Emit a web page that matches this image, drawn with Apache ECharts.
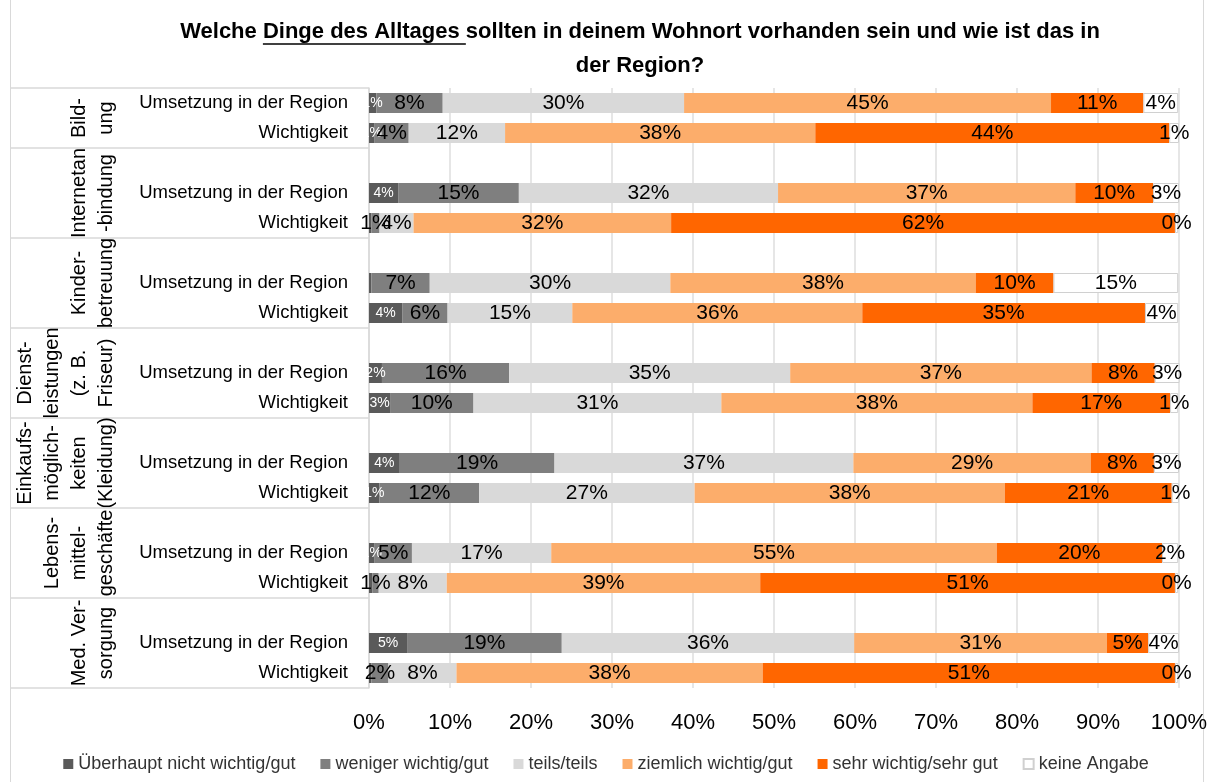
<!DOCTYPE html>
<html>
<head>
<meta charset="utf-8">
<script src="https://cdn.jsdelivr.net/npm/echarts@6/dist/echarts.min.js"></script>
<style>
html, body { margin: 0; padding: 0; background: #fff; }
#main { width: 1212px; height: 782px; }
</style>
</head>
<body>
<div id="main"></div>
<script>
// Gruppen (vertikale Beschriftung links) und Zeilen je Gruppe
var groups = ['Bild-\nung', 'Internetan\n-bindung', 'Kinder-\nbetreuung', 'Dienst-\nleistungen\n(z. B.\nFriseur)',
    'Einkaufs-\nmöglich-\nkeiten\n(Kleidung)', 'Lebens-\nmittel-\ngeschäfte', 'Med. Ver-\nsorgung'];
var rows = ['Umsetzung in der Region', 'Wichtigkeit'];

var seriesNames = ['Überhaupt nicht wichtig/gut', 'weniger wichtig/gut', 'teils/teils',
    'ziemlich wichtig/gut', 'sehr wichtig/sehr gut', 'keine Angabe'];
var colors = ['#5a5a5a', '#7f7f7f', '#d9d9d9', '#fcad6b', '#ff6600', '#ffffff'];

// Werte in %, je Gruppe: Umsetzung, Wichtigkeit
var ueberhaupt = [0.9, 0.7, 3.6, 0.3, 0.3, 4.1, 1.6, 2.6, 3.8, 1.3, 0.7, 0.4, 4.7, 0.3];
var weniger    = [8.2, 4.2, 14.9, 1.0, 7.2, 5.6, 15.7, 10.3, 19.1, 12.3, 4.6, 0.8, 19.1, 2.1];
var teils      = [29.8, 11.9, 32.0, 4.2, 29.7, 15.4, 34.7, 30.6, 36.9, 26.6, 17.2, 8.4, 36.1, 8.4];
var ziemlich   = [45.3, 38.3, 36.7, 31.8, 37.7, 35.8, 37.2, 38.4, 29.3, 38.3, 55.0, 38.7, 31.2, 37.8];
var sehr       = [11.4, 43.7, 9.6, 62.2, 9.6, 34.9, 7.8, 17.0, 7.8, 20.6, 20.4, 51.2, 5.1, 50.9];
var keine      = [4.3, 1.2, 3.2, 0.4, 15.4, 4.1, 3.2, 1.0, 3.1, 0.9, 2.0, 0.4, 3.8, 0.4];

var xTicks = [0, 100, 10]; // min, max, interval

// Kategorien mit Leerzeile vor jeder Gruppe (außer der ersten)
var categories = [];
var rowIndex = [];     // Kategorie-Index -> Datenindex oder -1
var groupRange = [];
groups.forEach(function (g, gi) {
    var start = categories.length;
    if (gi > 0) {
        categories.push(' '.repeat(gi));
        rowIndex.push(-1);
    }
    rows.forEach(function (r, ri) {
        categories.push(r);
        rowIndex.push(gi * 2 + ri);
    });
    groupRange.push([start, categories.length]);
});

function expand(arr) {
    return rowIndex.map(function (i) { return i < 0 ? null : arr[i]; });
}

function labelFmt(hideZero) {
    return function (p) {
        if (p.value == null) return '';
        var v = Math.round(p.value);
        if (hideZero && v === 0) return '';
        return v + '%';
    };
}

var allValues = [ueberhaupt, weniger, teils, ziemlich, sehr, keine];
var series = allValues.map(function (arr, si) {
    return {
        name: seriesNames[si],
        type: 'bar',
        stack: 'total',
        barWidth: 20,
        data: expand(arr),
        itemStyle: si === 5 ? { color: colors[si], borderColor: '#d0d0d0', borderWidth: 1 } : { color: colors[si] },
        label: {
            show: true,
            position: 'inside',
            formatter: labelFmt(si !== 5),
            color: si === 0 ? '#fff' : '#000',
            fontSize: si === 0 ? 14 : 21,
            fontFamily: 'Liberation Sans'
        }
    };
});

var gridLeft = 369, gridRight = 33, gridTop = 88, gridBottom = 94;

var chartDom = document.getElementById('main');
var myChart = echarts.init(chartDom);
var option;

option = {
    animation: false,
    color: colors,
    grid: {
        left: gridLeft,
        right: gridRight,
        top: gridTop,
        bottom: gridBottom,
        containLabel: false,
        outerBoundsMode: 'none'
    },
    legend: {
        bottom: 4,
        left: 'center',
        itemWidth: 10,
        itemHeight: 10,
        itemGap: 25,
        icon: 'rect',
        data: seriesNames,
        textStyle: { fontSize: 18, color: '#333', fontFamily: 'Liberation Sans' }
    },
    xAxis: {
        type: 'value',
        min: xTicks[0],
        max: xTicks[1],
        interval: xTicks[2],
        axisLine: { show: false },
        axisTick: { show: false },
        splitLine: { lineStyle: { color: '#dedede', width: 1.5 } },
        axisLabel: {
            formatter: '{value}%',
            fontSize: 22,
            color: '#000',
            margin: 24,
            fontFamily: 'Liberation Sans'
        }
    },
    yAxis: {
        type: 'category',
        inverse: true,
        data: categories,
        axisTick: { show: false },
        axisLine: { lineStyle: { color: '#d9d9d9', width: 1.5 } },
        axisLabel: {
            fontSize: 18.5,
            color: '#000',
            margin: 21,
            fontFamily: 'Liberation Sans'
        }
    },
    series: series
};
option && myChart.setOption(option);

// Titel, Unterstreichung, Gruppenbeschriftung und Tabellenlinien
var titleLine1 = 'Welche Dinge des Alltages sollten in deinem Wohnort vorhanden sein und wie ist das in';
var titleLine2 = 'der Region?';
var titleFont = 'bold 22px "Liberation Sans"';
var ctx = document.createElement('canvas').getContext('2d');
ctx.font = titleFont;
var fullW = ctx.measureText(titleLine1).width;
var preW = ctx.measureText('Welche ').width;
var underW = ctx.measureText('Dinge des Alltages ').width;
var titleX = 640;

var yAt = function (i) { return myChart.convertToPixel({ yAxisIndex: 0 }, i); };
var band = Math.abs(yAt(1) - yAt(0));

var graphics = [
    {
        type: 'rect',
        shape: { x: 10.5, y: -2, width: 1193, height: 790 },
        style: { fill: 'none', stroke: '#d9d9d9', lineWidth: 1 },
        silent: true
    },
    {
        type: 'text',
        x: titleX,
        y: 15,
        style: {
            text: titleLine1 + '\n' + titleLine2,
            font: titleFont,
            fill: '#000',
            align: 'center',
            textAlign: 'center',
            lineHeight: 34
        }
    },
    {
        type: 'line',
        shape: { x1: titleX - fullW / 2 + preW, y1: 44, x2: titleX - fullW / 2 + preW + underW, y2: 44 },
        style: { stroke: '#000', lineWidth: 1.5 }
    }
];

groupRange.forEach(function (r, gi) {
    var top = yAt(r[0]) - band / 2;
    var bottom = yAt(r[1] - 1) + band / 2;
    graphics.push({
        type: 'line',
        shape: { x1: 11, y1: top, x2: gridLeft, y2: top },
        style: { stroke: '#d9d9d9', lineWidth: 1.5 }
    });
    if (gi === groupRange.length - 1) {
        graphics.push({
            type: 'line',
            shape: { x1: 11, y1: bottom, x2: gridLeft, y2: bottom },
            style: { stroke: '#d9d9d9', lineWidth: 1.5 }
        });
    }
    graphics.push({
        type: 'text',
        x: 120,
        y: (top + bottom) / 2,
        rotation: Math.PI / 2,
        style: {
            text: groups[gi],
            font: '20px "Liberation Sans"',
            fill: '#000',
            align: 'center',
            textAlign: 'center',
            verticalAlign: 'bottom',
            textVerticalAlign: 'bottom',
            lineHeight: 27
        }
    });
});

myChart.setOption({ graphic: graphics });
</script>
</body>
</html>
